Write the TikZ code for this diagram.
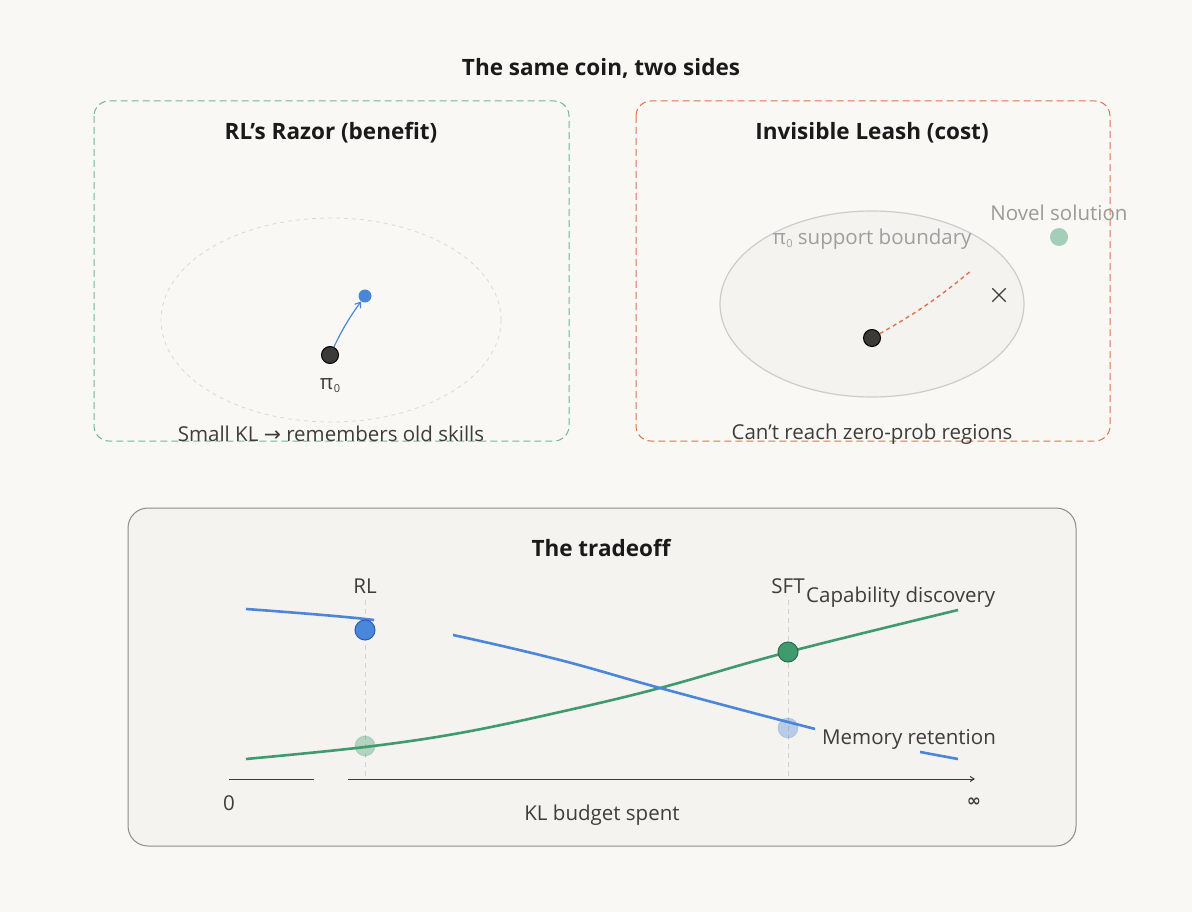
\documentclass[tikz,border=0pt]{standalone}
\usepackage{fontspec}
\setmainfont{Open Sans}
\newfontfamily\sym{DejaVu Sans}
\usetikzlibrary{arrows.meta}
\definecolor{bg}{HTML}{F9F8F5}
\definecolor{panel}{HTML}{F4F3EF}
\definecolor{ink}{HTML}{1A1A1A}
\definecolor{body}{HTML}{3D3D3A}
\definecolor{soft}{HTML}{9A9A97}
\definecolor{gbox}{HTML}{6FB894}
\definecolor{obox}{HTML}{E0714F}
\definecolor{blu}{HTML}{4A86DA}
\definecolor{bluD}{HTML}{2D5FA8}
\definecolor{grn}{HTML}{3F9A6E}
\definecolor{grnD}{HTML}{2B6C4D}
\definecolor{dot}{HTML}{3A3A36}
\tikzset{
  ttl/.style={font=\fontsize{22.5}{27}\selectfont\bfseries, text=ink},
  lbl/.style={font=\fontsize{20.5}{24}\selectfont, text=body},
  soft lbl/.style={font=\fontsize{20.5}{24}\selectfont, text=soft},
  blackdot/.style={circle, fill=dot, draw=black, line width=1pt, minimum size=17pt, inner sep=0pt},
  bigdot/.style={circle, minimum size=20pt, inner sep=0pt, line width=1pt},
  curve/.style={line width=2.6pt, line cap=butt},
}
\newcommand{\pizero}{π\kern0.5pt{\fontsize{11}{11}\selectfont\raisebox{-3pt}{0}}}
\begin{document}
\begin{tikzpicture}[x=1pt,y=-1pt]
\fill[bg] (0,0) rectangle (1192,912);
\useasboundingbox (0,0) rectangle (1192,912);

\node[ttl] (main) at (601,68) {The same coin, two sides};

% ---------- left panel ----------
\draw[gbox, line width=1pt, dash pattern=on 7pt off 4pt, rounded corners=15pt] (94,101) rectangle (569,441);
\node[ttl] (lt) at (331,133) {RL’s Razor (benefit)};
\draw[black!15, line width=0.8pt, dash pattern=on 4pt off 4pt] (331,320) ellipse [x radius=170, y radius=102];
\node[blackdot] (p0) at (330,355) {};
\node[circle, fill=blu, minimum size=13pt, inner sep=0pt] (p1) at (365,296) {};
\draw[blu, line width=1.2pt, -{Straight Barb[length=5pt,width=7pt]}] (p0) to[bend left=5] (p1);
\node[lbl] (pil) at (330,386) {\pizero};
\node[lbl] (lb) at (331,434) {Small KL {\sym→} remembers old skills};

% ---------- right panel ----------
\draw[obox, line width=1pt, dash pattern=on 7pt off 4pt, rounded corners=15pt] (636,101) rectangle (1110,441);
\node[ttl] (rt) at (872,133) {Invisible Leash (cost)};
\draw[fill=panel, draw=black!20, line width=1.2pt] (872,304) ellipse [x radius=152, y radius=93];
\node[soft lbl, text=black!38] (sb) at (872,239) {\pizero\ support boundary};
\node[blackdot] (q0) at (872,338) {};
\coordinate (qe) at (972,270);
\draw[obox, line width=1.4pt, dash pattern=on 4pt off 3.5pt] (q0) to[bend right=5] (qe);
\node[inner sep=0pt, minimum size=13pt] (xm) at (999,295) {};
\draw[body, line width=1.2pt] (xm.north west) -- (xm.south east) (xm.north east) -- (xm.south west);
\node[circle, fill=grn!45!bg, minimum size=18pt, inner sep=0pt] (nv) at (1059,237) {};
\node[soft lbl] (nvl) at (1059,213) {Novel solution};
\node[lbl] (rb) at (872,434) {Can’t reach zero-prob regions};

% ---------- bottom panel ----------
\draw[fill=panel, draw=black!45, line width=1pt, rounded corners=20pt] (128,508) rectangle (1076,846);
\node[ttl] (bt) at (601,548) {The tradeoff};

% axis
\coordinate (a0) at (229,779);
\coordinate (a1) at (314,779);
\coordinate (a2) at (348,779);
\coordinate (a3) at (975,779);
\draw[body, line width=1pt] (a0) -- (a1);
\draw[body, line width=1pt, -{Straight Barb[length=4pt,width=5pt]}] (a2) -- (a3);
\node[lbl] (z) at (229,803) {0};
\node[lbl, font=\fontsize{17}{20}\selectfont\sym\bfseries] (inf) at (974,802) {∞};
\node[lbl] (kl) at (602,815) {KL budget spent};

% vertical markers
\coordinate (rlt) at (365,600);
\coordinate (rlb) at (365,779);
\coordinate (sft) at (788,600);
\coordinate (sfb) at (788,779);
\draw[black!18, line width=0.8pt, dash pattern=on 5pt off 4pt] (rlt) -- (rlb);
\draw[black!18, line width=0.8pt, dash pattern=on 5pt off 4pt] (sft) -- (sfb);
\node[lbl] (rl) at (365,586) {RL};
\node[lbl] (sf) at (788,586) {SFT};
\node[lbl, anchor=west, inner sep=0pt] (cap) at (806,597) {Capability discovery};
\node[lbl, anchor=west, inner sep=0pt] (mem) at (822,739) {Memory retention};

% green curve
\draw[grn, curve] plot[smooth, tension=0.6] coordinates {(246,759) (365,747) (460,733) (560,712) (660,688) (788,652) (958,610)};

% blue curve, pieces
\def\bluecurve{plot[smooth, tension=0.6] coordinates {(246,609) (374,620) (453,635) (560,660) (660,688) (788,722) (870,742) (958,759)}}
\begin{scope}
\clip (240,590) rectangle (374,640);
\draw[blu, curve] \bluecurve;
\end{scope}
\begin{scope}
\clip (453,600) rectangle (815,760);
\draw[blu, curve] \bluecurve;
\end{scope}
\begin{scope}
\clip (920,730) rectangle (960,780);
\draw[blu, curve] \bluecurve;
\end{scope}

% markers
\node[bigdot, fill=blu, draw=bluD] (rlm) at (365,630) {};
\node[bigdot, fill=grn, fill opacity=0.35, draw=grn, draw opacity=0.2] (rlc) at (365,746) {};
\node[bigdot, fill=grn, draw=grnD] (sfc) at (788,652) {};
\node[bigdot, fill=blu, fill opacity=0.35, draw=blu, draw opacity=0.2] (sfm) at (788,728) {};
\end{tikzpicture}
\end{document}
